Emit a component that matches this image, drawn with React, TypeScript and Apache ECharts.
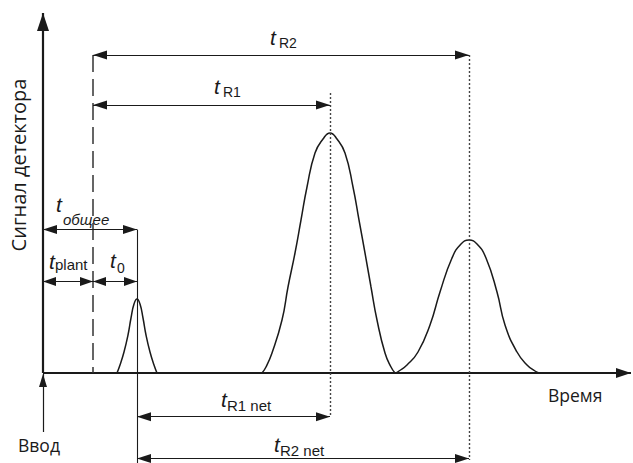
import React, { useEffect, useRef } from "react";
import * as echarts from "echarts";

// ---- data (arbitrary time units, 0 = injection; signal in arbitrary units) ----
const deadTime = 5.0; // t_plant
const peakTimes = [9.4, 28.7, 42.6]; // t_общее, t_R1, t_R2 (from injection)

const peak0Time = [7.4, 7.7, 8.1, 8.5, 8.8, 9.1, 9.4, 9.7, 10.0, 10.3, 10.7, 11.1, 11.4];
const peak0Signal = [0, 0.8, 2.1, 3.8, 5.5, 6.9, 7.4, 6.9, 5.5, 3.8, 2.1, 0.8, 0];

const peak1Time = [21.9, 22.3, 22.9, 23.9, 24.5, 25.2, 25.8, 26.4, 27.2, 28.0, 28.7, 29.4, 30.2, 31.0, 31.6, 32.2, 32.8, 33.4, 34.2, 34.8, 35.2];
const peak1Signal = [0, 0.6, 2.0, 5.3, 8.6, 12.0, 15.3, 18.6, 22.0, 23.4, 24.0, 23.4, 22.0, 18.6, 15.3, 12.0, 8.6, 5.3, 2.0, 0.6, 0];

const peak2Time = [35.3, 35.6, 36.4, 37.5, 38.7, 39.7, 40.9, 41.8, 42.6, 43.4, 44.3, 45.4, 46.2, 47.4, 48.4, 49.2, 49.6];
const peak2Signal = [0, 0.2, 0.8, 2.1, 4.8, 8.1, 11.5, 12.9, 13.3, 12.9, 11.5, 8.1, 4.8, 2.1, 0.8, 0.2, 0];

// axis extents of the drawing (time / signal)
const timeRange = [-4.3, 59.0];
const signalRange = [-9.0, 37.3];
const axisEnds = { time: 58.8, signal: 36.0, inject: -5.9 };
// dimension line levels (signal units)
const levels = { tR2: 31.8, tR1: 26.8, tTotal: 14.35, tPlant: 9.15, tR1net: -4.37, tR2net: -8.55, dotted1Top: 28.0, dotted2Bottom: -8.7 };

const INK = "#1a1a1a";
const SANS = '"Liberation Sans", Arial, sans-serif';
const OPEN = '"Open Sans", sans-serif';

const zip = (xs: number[], ys: number[]) => xs.map((x, i) => [x, ys[i]]);

function seg(
  x1: number, y1: number, x2: number, y2: number,
  opts: { start?: boolean; end?: boolean; head?: number[]; color?: string; width?: number; type?: any } = {}
) {
  const head = opts.head ?? [9, 14];
  const ls = { color: opts.color ?? INK, width: opts.width ?? 1, type: opts.type ?? "solid", opacity: 1 };
  return [
    { coord: [x1, y1], symbol: opts.start ? "triangle" : "none", symbolSize: head, symbolOffset: [0, head[1] / 2], lineStyle: ls },
    { coord: [x2, y2], symbol: opts.end ? "triangle" : "none", symbolSize: head, symbolOffset: [0, head[1] / 2] },
  ];
}

function txt(text: string, left: number, baseline: number, size: number, family = SANS, italic = false) {
  const k = family === OPEN ? 0.388 : 0.3465;
  return {
    type: "text",
    x: left,
    y: baseline - k * size,
    silent: true,
    style: {
      text,
      font: `${italic ? "italic " : ""}${size}px ${family}`,
      fill: INK,
      textAlign: "left",
      textVerticalAlign: "middle",
    },
  };
}

export default function App() {
  const ref = useRef<HTMLDivElement>(null);
  useEffect(() => {
    if (!ref.current) return;
    const chart = echarts.init(ref.current, undefined, { renderer: "svg" });
    const [t0, tR1, tR2] = peakTimes;
    const both = { start: true, end: true };
    const markData = [
      // axes
      seg(0, 0, axisEnds.time, 0, { end: true, head: [10, 15], width: 2.2 }),
      seg(0, 0, 0, axisEnds.signal, { end: true, head: [12, 18], width: 2.2 }),
      // injection arrow
      seg(0, axisEnds.inject, 0, -0.1, { end: true, head: [8, 13], width: 1.2 }),
      // dashed dead-time line
      seg(deadTime, levels.tR2, deadTime, 0, { color: "#333", width: 1.5, type: [17, 7] }),
      // dotted peak lines
      seg(tR1, levels.dotted1Top, tR1, levels.tR1net, { color: "#444", width: 1.4, type: [2, 2] }),
      seg(tR2, levels.tR2, tR2, levels.dotted2Bottom, { color: "#444", width: 1.4, type: [2, 2] }),
      // solid line at first peak
      seg(t0, levels.tTotal, t0, signalRange[0], { width: 1.1 }),
      // dimension arrows
      seg(deadTime, levels.tR2, tR2, levels.tR2, both),
      seg(deadTime, levels.tR1, tR1, levels.tR1, both),
      seg(0, levels.tTotal, t0, levels.tTotal, both),
      seg(0, levels.tPlant, deadTime, levels.tPlant, { ...both, head: [9, 13] }),
      seg(deadTime, levels.tPlant, t0, levels.tPlant, { ...both, head: [9, 13] }),
      seg(t0, levels.tR1net, tR1, levels.tR1net, both),
      seg(t0, levels.tR2net, tR2, levels.tR2net, both),
    ];

    const peakStyle = { color: INK, width: 1.5 };
    const peakSeries = (d: number[][]) => ({
      type: "line",
      data: d,
      smooth: 0.5,
      symbol: "none",
      showSymbol: false,
      silent: true,
      lineStyle: peakStyle,
      emphasis: { disabled: true },
    });

    chart.setOption({
      animation: false,
      backgroundColor: "#ffffff",
      grid: { left: 0, right: 0, top: 0, bottom: 0, containLabel: false },
      xAxis: { type: "value", min: timeRange[0], max: timeRange[1], show: false },
      yAxis: { type: "value", min: signalRange[0], max: signalRange[1], show: false },
      series: [
        {
          ...peakSeries(zip(peak0Time, peak0Signal)),
          markLine: {
            silent: true,
            animation: false,
            precision: 3,
            label: { show: false },
            emphasis: { disabled: true },
            data: markData,
          },
        },
        peakSeries(zip(peak1Time, peak1Signal)),
        peakSeries(zip(peak2Time, peak2Signal)),
      ],
      graphic: [
        txt("t", 270, 45, 21, SANS, true),
        txt("R2", 279, 48, 14),
        txt("t", 214, 94, 21, SANS, true),
        txt("R1", 223, 97, 14),
        txt("t", 56, 212, 21, SANS, true),
        txt("общее", 63, 225, 15, SANS, true),
        txt("t", 49, 269, 21, SANS, true),
        txt("plant", 55, 270, 15),
        txt("t", 110, 268, 21, SANS, true),
        txt("0", 117, 273, 14),
        txt("t", 221, 407, 21, SANS, true),
        txt("R1 net", 227, 411, 15),
        txt("t", 274, 452, 21, SANS, true),
        txt("R2 net", 280, 455.5, 15),
        txt("Время", 548, 402, 17.5, OPEN),
        txt("Ввод", 18, 452, 17.5, OPEN),
        {
          type: "text",
          x: 18,
          y: 165,
          rotation: Math.PI / 2,
          silent: true,
          style: {
            text: "Сигнал детектора",
            font: `20px ${OPEN}`,
            fill: INK,
            textAlign: "center",
            textVerticalAlign: "middle",
          },
        },
      ],
    });
    return () => chart.dispose();
  }, []);
  return (
    <div
      ref={ref}
      style={{ position: "fixed", left: 0, top: 0, width: 633, height: 463, background: "#fff" }}
    />
  );
}
